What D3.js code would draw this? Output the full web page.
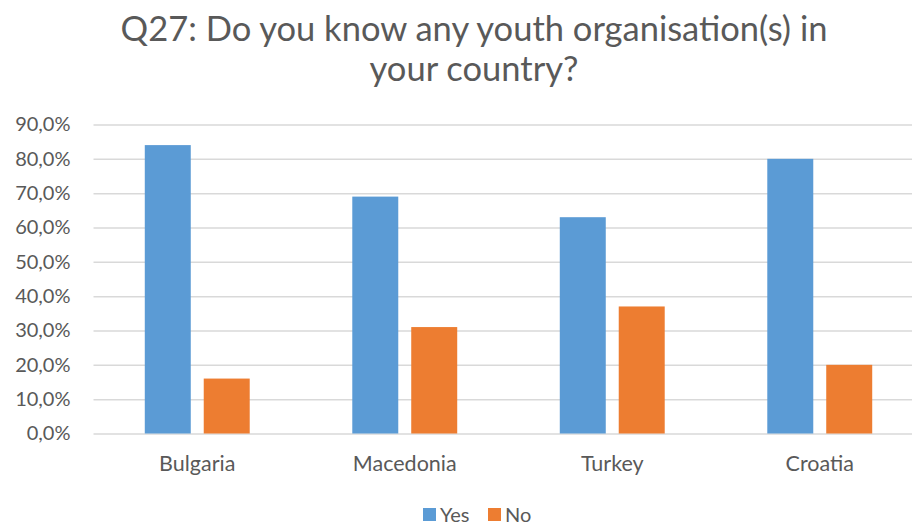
<!DOCTYPE html>
<html>
<head>
<meta charset="utf-8">
<script src="https://cdn.jsdelivr.net/npm/d3@7"></script>
<style>
  html, body { margin: 0; padding: 0; background: #fff; }
  svg { display: block; font-family: Lato, "Open Sans", sans-serif; }
</style>
</head>
<body>
<svg id="chart" width="912" height="527"></svg>
<script>
// Survey answers per country (share of respondents, %)
const categories = ["Bulgaria", "Macedonia", "Turkey", "Croatia"];
const seriesNames = ["Yes", "No"];
const yesValues = [84, 69, 63, 80];
const noValues = [16, 31, 37, 20];
const yTicks = [0, 10, 20, 30, 40, 50, 60, 70, 80, 90];
const titleLines = ["Q27: Do you know any youth organisation(s) in", "your country?"];

const colors = { Yes: "#5b9bd5", No: "#ed7d31" };
const textColor = "#595959";

const rows = categories.map((c, i) => ({ category: c, Yes: yesValues[i], No: noValues[i] }));

const svg = d3.select("#chart");
const plot = { left: 93.5, right: 923.5, top: 124.5, bottom: 433.5 };

const x0 = d3.scaleBand().domain(categories).range([plot.left, plot.right]).padding(0);
const x1 = d3.scaleBand().domain(seriesNames).range([0, x0.bandwidth()])
  .paddingInner(0.22).paddingOuter(0.87);
const y = d3.scaleLinear().domain([0, 90]).range([plot.bottom, plot.top]);

const locale = d3.formatLocale({ decimal: ",", thousands: ".", grouping: [3], currency: ["", "€"] });
const pct = v => locale.format(".1f")(v) + "%";

// Title
svg.append("g").selectAll("text").data(titleLines).join("text")
  .attr("x", 474).attr("y", (d, i) => 41 + i * 40)
  .attr("text-anchor", "middle")
  .attr("fill", textColor)
  .attr("font-size", 34.5)
  .text(d => d);

// Horizontal gridlines + y labels
const yAxis = d3.axisLeft(y).tickValues(yTicks).tickFormat(pct)
  .tickSize(-(plot.right - plot.left)).tickPadding(23);
const gy = svg.append("g").attr("transform", `translate(${plot.left},0)`).call(yAxis);
gy.select(".domain").remove();
gy.selectAll(".tick line").attr("stroke", "#d9d9d9").attr("stroke-width", 1.5);
gy.selectAll(".tick text").attr("fill", textColor).attr("font-size", 20)
  .attr("font-family", "Lato, sans-serif");

// Bars
const groups = svg.append("g").selectAll("g").data(rows).join("g")
  .attr("transform", d => `translate(${x0(d.category)},0)`);
groups.selectAll("rect")
  .data(d => seriesNames.map(s => ({ key: s, value: d[s] })))
  .join("rect")
  .attr("x", d => x1(d.key))
  .attr("width", x1.bandwidth())
  .attr("y", d => y(d.value))
  .attr("height", d => y(0) - y(d.value))
  .attr("fill", d => colors[d.key]);

// Category labels
const xAxis = d3.axisBottom(x0).tickSize(0).tickPadding(22);
const gx = svg.append("g").attr("transform", `translate(0,${plot.bottom})`).call(xAxis);
gx.select(".domain").remove();
gx.selectAll(".tick text").attr("fill", textColor).attr("font-size", 21.5)
  .attr("font-family", "Lato, sans-serif");

// Legend
const legendItems = [{ key: "Yes", x: 423 }, { key: "No", x: 488 }];
const lg = svg.append("g").selectAll("g").data(legendItems).join("g")
  .attr("transform", d => `translate(${d.x},508)`);
lg.append("rect").attr("width", 13).attr("height", 13).attr("fill", d => colors[d.key]);
lg.append("text").attr("x", 17).attr("y", 13.5).attr("fill", textColor)
  .attr("font-size", 20).text(d => d.key);
</script>
</body>
</html>
